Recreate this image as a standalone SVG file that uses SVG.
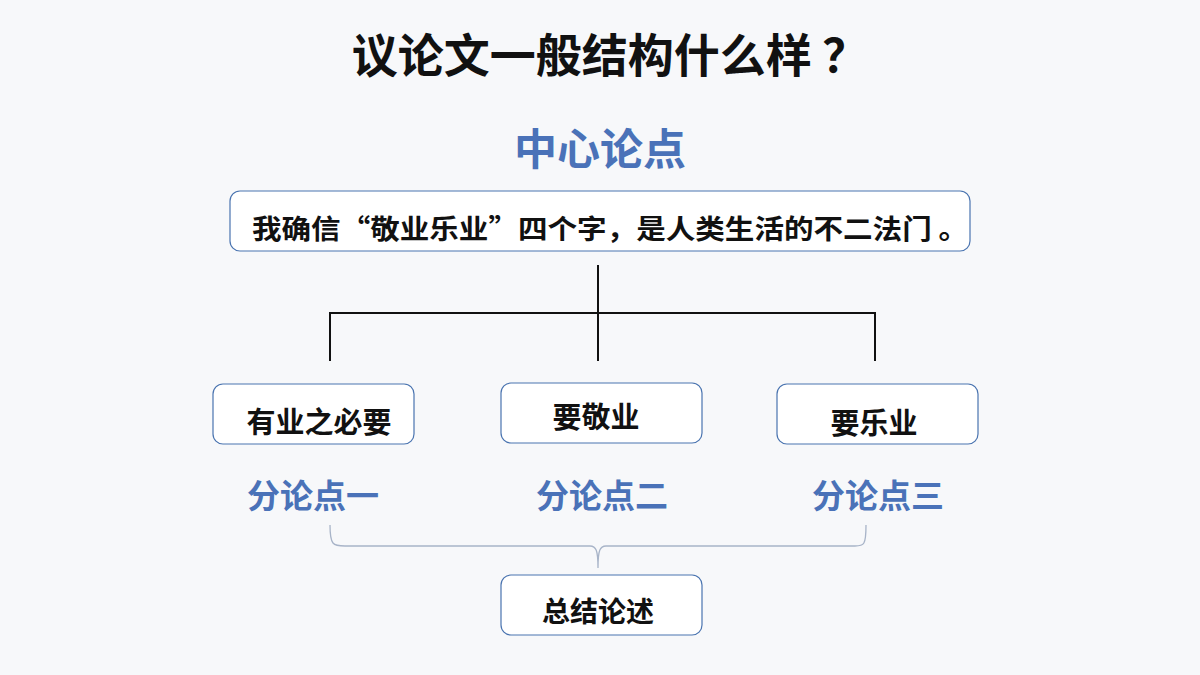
<svg xmlns="http://www.w3.org/2000/svg" width="1200" height="675" viewBox="0 0 1200 675">
<style>
.box{fill:#fff;stroke:#4a74b0;stroke-width:1.2}
.t{font-family:"Noto Sans CJK SC","Noto Sans",sans-serif;font-weight:bold;fill:#111}
.b{font-family:"Noto Sans CJK SC","Noto Sans",sans-serif;font-weight:bold;fill:#4a72b8}
.ln{stroke:#111;stroke-width:2;fill:none}
</style>
<rect width="1200" height="675" fill="#f7f8fa"/>
<text class="t" x="610" y="72" font-size="46" text-anchor="middle">议论文一般结构什么样 ？</text>
<text class="b" x="600" y="165" font-size="43" text-anchor="middle">中心论点</text>
<g id="main"><rect class="box" x="230" y="191" width="740" height="60" rx="10"/>
<text class="t" x="252" y="239" font-size="27" textLength="716" lengthAdjust="spacingAndGlyphs">我确信“敬业乐业”四个字，是人类生活的不二法门 。</text></g>
<g id="connectors">
<path class="ln" d="M598 265V361M330 361V313H875V361"/>
<path d="M330 525C330 545 333 546 345 546H590C596 546 598 550 598 568C598 550 600 546 606 546H855C864 546 866 545 866 525" fill="none" stroke="#a8b4c8" stroke-width="1.3"/>
</g>
<g id="n1"><rect class="box" x="213" y="384" width="201" height="60" rx="10"/><text class="t" x="319" y="433" font-size="29" text-anchor="middle">有业之必要</text></g>
<g id="n2"><rect class="box" x="501" y="383" width="201" height="60" rx="10"/><text class="t" x="596" y="428" font-size="29" text-anchor="middle">要敬业</text></g>
<g id="n3"><rect class="box" x="777" y="384" width="201" height="60" rx="10"/><text class="t" x="874" y="434" font-size="29" text-anchor="middle">要乐业</text></g>
<text class="b" x="313" y="508" font-size="33" text-anchor="middle">分论点一</text>
<text class="b" x="602" y="508" font-size="33" text-anchor="middle">分论点二</text>
<text class="b" x="878" y="508" font-size="33" text-anchor="middle">分论点三</text>
<g id="n4"><rect class="box" x="501" y="575" width="201" height="60" rx="10"/><text class="t" x="598" y="622" font-size="28" text-anchor="middle">总结论述</text></g>
</svg>
